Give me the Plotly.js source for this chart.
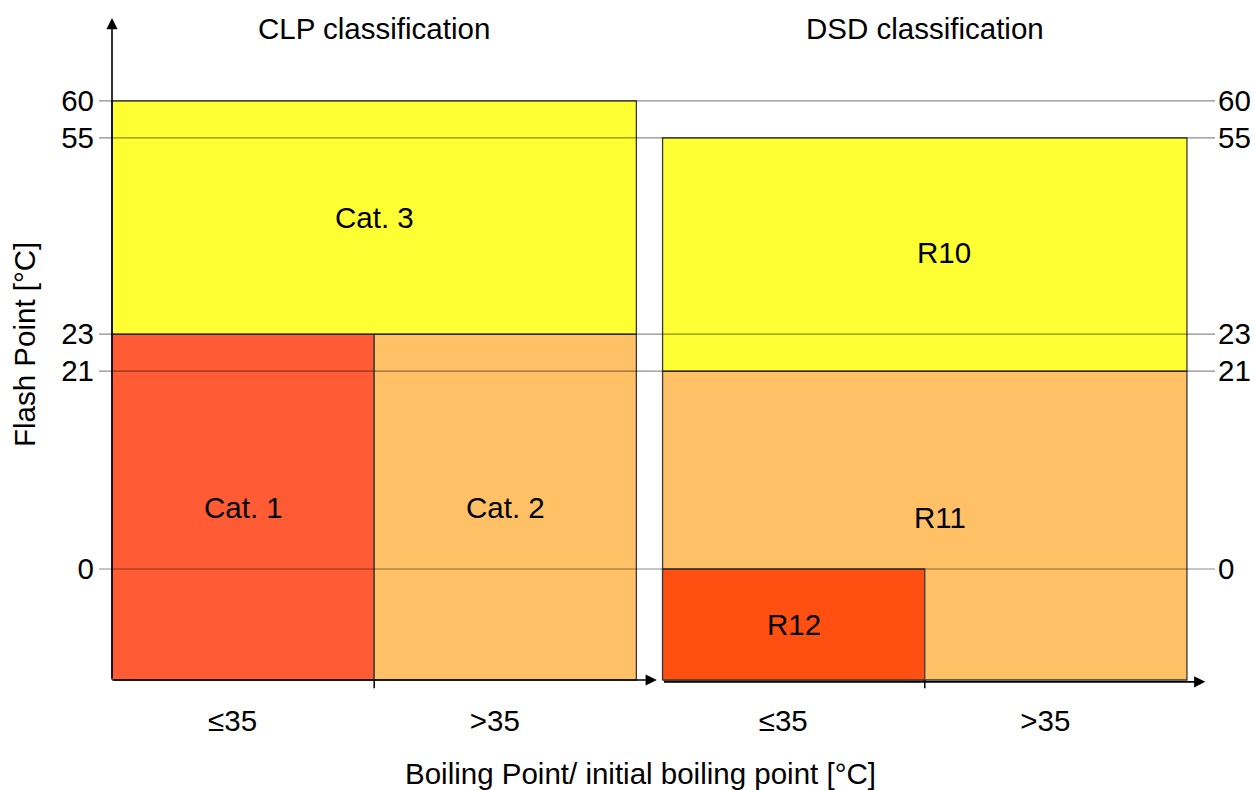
<!DOCTYPE html>
<html>
<head>
<meta charset="utf-8">
<script src="https://cdn.plot.ly/plotly-3.0.1.min.js"></script>
<style>html,body{margin:0;padding:0;background:#fff;}#chart{width:1255px;height:790px;}</style>
</head>
<body>
<div id="chart"></div>
<script>
// ---------- data ----------
const panelTitles = ['CLP classification', 'DSD classification'];
const bpCategories = ['≤35', '>35'];
const fpLevels = [0, 21, 23, 55, 60];
const fpTickText = ['0', '21', '23', '55', '60'];

// CLP classes (bp column range as category index bounds, flash-point bounds)
const clpClasses = ['Cat. 1', 'Cat. 2', 'Cat. 3'];
const clpBpFrom = [0, 1, 0];
const clpBpTo = [1, 2, 2];
const clpFpMin = ['bottom', 'bottom', 23];
const clpFpMax = [23, 23, 60];
const clpColors = ['#FF5B35', '#FFC066', '#FFFF33'];

// DSD classes (drawn in order: R11 behind R12)
const dsdClasses = ['R11', 'R10', 'R12'];
const dsdBpFrom = [0, 0, 0];
const dsdBpTo = [2, 2, 1];
const dsdFpMin = ['bottom', 21, 'bottom'];
const dsdFpMax = [21, 55, 0];
const dsdColors = ['#FFC066', '#FFFF33', '#FF5012'];

// ---------- schematic scales ----------
// the flash-point axis is schematic (not proportional): axis position of each level
const SCHEMATIC_Y = {bottom: 0, 0: 3, 21: 8.35, 23: 9.35, 55: 14.65, 60: 15.65};
const PANEL_GAP = 0.1;
function yPos(v) { return SCHEMATIC_Y[v]; }
function xPos(panel, col) { return panel * (bpCategories.length + PANEL_GAP) + col; }

const X_RANGE = [-0.0496, 4.207];
const Y_RANGE = [-0.405, 18.108];
const FONT = 'Liberation Sans, Arial, sans-serif';
const FS = 29.5;

const traces = [];
const annotations = [];
const labelShift = {'R10': [19, 2], 'R11': [15, 8]};

function addRects(panel, names, from, to, fmin, fmax, colors) {
  names.forEach((name, i) => {
    const x0 = xPos(panel, from[i]), x1 = xPos(panel, to[i]);
    const y0 = yPos(fmin[i]), y1 = yPos(fmax[i]);
    traces.push({
      type: 'scatter', mode: 'lines',
      x: [x0, x1, x1, x0, x0], y: [y0, y0, y1, y1, y0],
      fill: 'toself', fillcolor: colors[i],
      line: {color: '#3a3a3a', width: 1.3},
      hoverinfo: 'skip', showlegend: false
    });
    const sh = labelShift[name] || [0, 0];
    annotations.push({
      x: (x0 + x1) / 2, y: (y0 + y1) / 2, xref: 'x', yref: 'y',
      text: name, showarrow: false, xshift: sh[0], yshift: sh[1],
      font: {family: FONT, size: FS, color: '#000'}
    });
  });
}
addRects(0, clpClasses, clpBpFrom, clpBpTo, clpFpMin, clpFpMax, clpColors);
addRects(1, dsdClasses, dsdBpFrom, dsdBpTo, dsdFpMin, dsdFpMax, dsdColors);

// grid lines across both panels, on top of the rectangles
fpLevels.forEach(v => {
  traces.push({
    type: 'scatter', mode: 'lines', x: X_RANGE, y: [yPos(v), yPos(v)],
    line: {color: 'rgba(0,0,0,0.45)', width: 1.2},
    hoverinfo: 'skip', showlegend: false
  });
});

// tick marks at column boundaries
[0, 1].forEach(p => {
  traces.push({
    type: 'scatter', mode: 'lines', x: [xPos(p, 1), xPos(p, 1)], y: [yPos('bottom'), yPos('bottom') - 0.22],
    line: {color: '#000', width: 1.5}, hoverinfo: 'skip', showlegend: false
  });
});

// invisible trace for right axis
traces.push({type: 'scatter', mode: 'markers', x: [0], y: [0], yaxis: 'y2',
  marker: {opacity: 0}, hoverinfo: 'skip', showlegend: false});

// axis arrows
const arrowStyle = {showarrow: true, text: '', arrowhead: 2, arrowsize: 1.4, arrowwidth: 1.6,
  arrowcolor: '#000', axref: 'x', ayref: 'y', xref: 'x', yref: 'y', standoff: 0, startstandoff: 0};
annotations.push(Object.assign({}, arrowStyle, {x: 0, y: 17.89, ax: 0, ay: yPos('bottom')}));
annotations.push(Object.assign({}, arrowStyle, {x: 2.078, y: yPos('bottom'), ax: 0, ay: yPos('bottom')}));
annotations.push(Object.assign({}, arrowStyle, {x: 4.17, y: yPos('bottom') - 0.05, ax: xPos(1, 0), ay: yPos('bottom') - 0.05}));

// panel titles
panelTitles.forEach((t, p) => {
  annotations.push({x: xPos(p, bpCategories.length / 2), y: 17.62, xref: 'x', yref: 'y',
    text: t, showarrow: false, font: {family: FONT, size: FS, color: '#000'}});
});

// axis titles
annotations.push({x: 0.4848, y: -0.1139, xref: 'paper', yref: 'paper', yanchor: 'middle',
  text: 'Boiling Point/ initial boiling point [°C]', showarrow: false,
  font: {family: FONT, size: FS, color: '#000'}});
annotations.push({x: -0.0663, y: 0.511, xref: 'paper', yref: 'paper', xanchor: 'center', yanchor: 'middle',
  text: 'Flash Point [°C]', textangle: -90, showarrow: false,
  font: {family: FONT, size: FS, color: '#000'}});

// x tick labels at column centres of both panels
const xTickVals = [], xTickText = [];
[0, 1].forEach(p => bpCategories.forEach((c, i) => { xTickVals.push(xPos(p, i + 0.5) - 0.04); xTickText.push(c); }));

const yTickVals = fpLevels.map(yPos);
const axisY = {range: Y_RANGE, tickvals: yTickVals, ticktext: fpTickText, showgrid: false,
  zeroline: false, showline: false, ticks: '', fixedrange: true,
  tickfont: {family: FONT, size: FS, color: '#000'}};

const layout = {
  width: 1255, height: 790,
  margin: {l: 99, r: 40, t: 10, b: 95},
  paper_bgcolor: '#fff', plot_bgcolor: 'rgba(0,0,0,0)',
  showlegend: false,
  xaxis: {range: X_RANGE, tickvals: xTickVals, ticktext: xTickText, showgrid: false,
    zeroline: false, showline: false, ticks: '', ticklabelstandoff: 5,
    tickfont: {family: FONT, size: FS, color: '#000'}},
  yaxis: Object.assign({}, axisY, {ticklabelstandoff: 4}),
  yaxis2: Object.assign({}, axisY, {overlaying: 'y', side: 'right', ticklabelstandoff: 2}),
  annotations: annotations,
  font: {family: FONT}
};

Plotly.newPlot('chart', traces, layout, {displayModeBar: false, staticPlot: true});
</script>
</body>
</html>
